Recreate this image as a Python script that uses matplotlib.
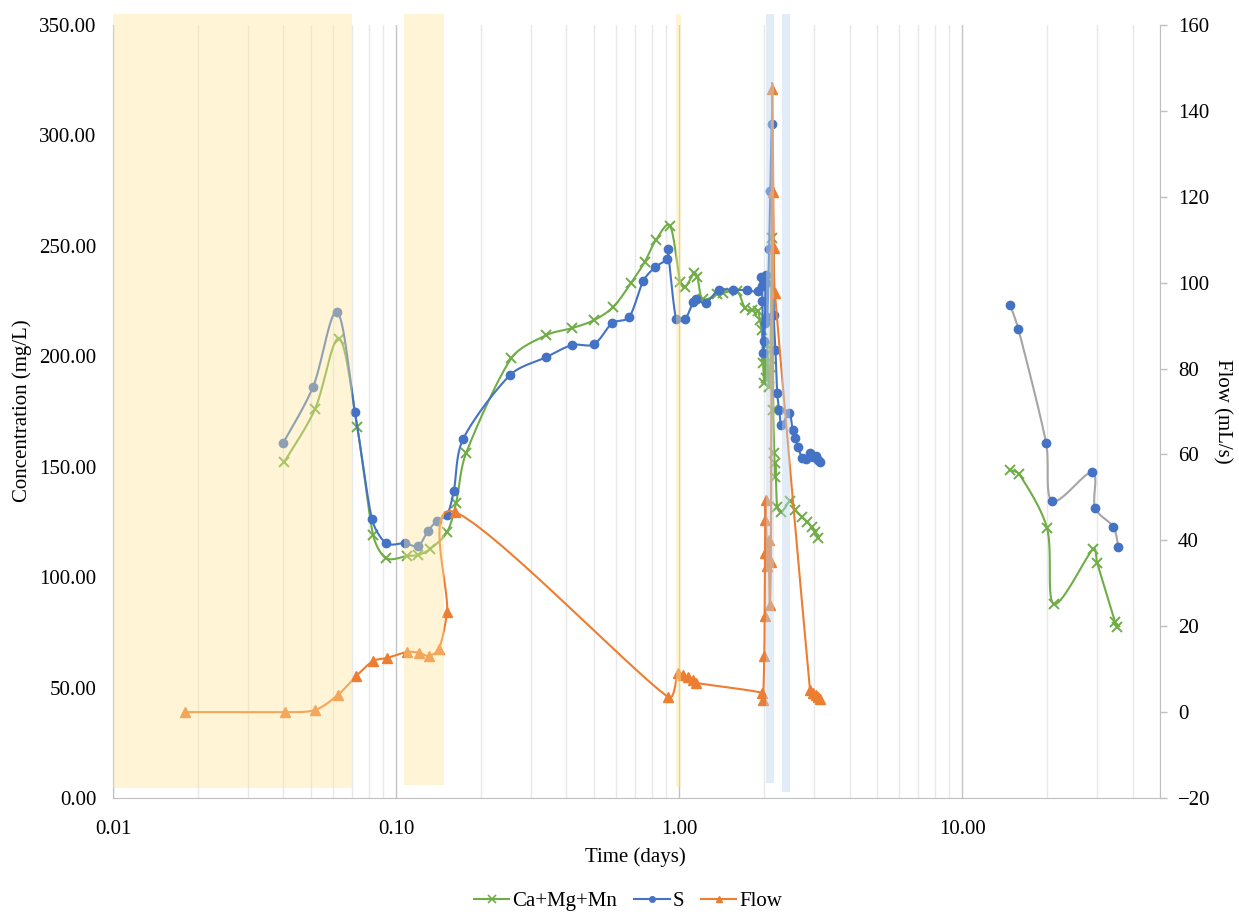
import numpy as np
import matplotlib
matplotlib.use("Agg")
import matplotlib.pyplot as plt
import matplotlib.transforms as mtrans
from matplotlib.ticker import FixedLocator, LogLocator, NullFormatter, FormatStrFormatter
from matplotlib.lines import Line2D

plt.rcParams['font.family'] = ['Liberation Serif', 'DejaVu Serif']

# Ca+Mg+Mn (mg/L)
cmm_days = [0.0402, 0.0517, 0.0629, 0.0729, 0.0830, 0.0922, 0.1094, 0.1196, 0.1318, 0.1514,
            0.1629, 0.1766, 0.255, 0.34, 0.42, 0.501, 0.585, 0.675, 0.755, 0.828, 0.93,
            1.008, 1.05, 1.13, 1.16, 1.21, 1.36, 1.43, 1.60, 1.71, 1.81, 1.90, 1.93, 1.96,
            1.98, 2.00, 2.01, 2.03, 2.05, 2.07, 2.10, 2.13, 2.15, 2.17, 2.18, 2.19, 2.22,
            2.30, 2.47, 2.57, 2.72, 2.84, 2.95, 3.03, 3.10,
            14.78, 15.9, 19.95, 21.1, 29.0, 30.0, 34.7, 35.3]
cmm_conc = [152, 176, 208, 168, 119, 108.6, 109.6, 110, 112.7, 120.4,
            133.5, 156, 199, 209.6, 212.8, 216.4, 222.3, 233, 242.6, 252.6, 259,
            233.6, 231.3, 237.7, 236, 226, 228, 228.6, 229.5, 221.7, 220.8, 220.4, 216.3, 211.8,
            196.9, 187.9, 200, 190, 205, 186, 195, 253.5, 175.6, 156.2, 145.3, 151.7, 131.7,
            129.5, 134.4, 130.4, 127.2, 124.9, 122.7, 120.4, 117.7,
            148.5, 146.7, 122.2, 87.8, 112.7, 106.4, 79.7, 77.4]

# S (mg/L)
s_days = [0.0399, 0.0509, 0.0619, 0.0716, 0.0822, 0.0922, 0.1076, 0.1196, 0.1297, 0.1394,
          0.1514, 0.1600, 0.1725, 0.2528, 0.339, 0.419, 0.501, 0.580, 0.666, 0.746, 0.823,
          0.907, 0.912, 0.976, 1.05, 1.12, 1.15, 1.24, 1.38, 1.55, 1.74, 1.90, 1.95, 1.96,
          1.97, 1.98, 2.00, 2.01, 2.02, 2.03, 2.05, 2.08, 2.10, 2.13, 2.16, 2.19, 2.22,
          2.26, 2.30, 2.45, 2.52, 2.57, 2.63, 2.72, 2.80, 2.90, 2.97, 3.05, 3.10, 3.15,
          14.78, 15.8, 19.8, 20.8, 28.8, 29.5, 34.2, 35.6]
s_conc = [160.7, 186.1, 220.0, 174.7, 126.3, 115.4, 115.4, 114.1, 120.9, 125.4,
          128.1, 139.0, 162.5, 191.5, 199.6, 205.1, 205.5, 215.0, 217.7, 234.0, 240.4,
          244.0, 248.5, 216.8, 216.8, 224.5, 226, 224, 230, 230, 230, 229.5, 236, 232,
          225, 201.5, 207, 215, 237, 233, 218, 248.5, 275, 305, 218.6, 202.8, 183.3,
          175.6, 168.9, 174.3, 166.6, 163, 158.9, 153.9, 153.5, 156.2, 154.4, 155.0, 153.0, 152.1,
          223.2, 212.3, 160.7, 134.4, 147.6, 131.3, 122.7, 113.6]

# Flow (mL/s)
flow_days = [0.018, 0.0405, 0.0517, 0.0623, 0.0723, 0.083, 0.0928, 0.1094, 0.1207, 0.1304,
             0.1417, 0.1514, 0.1614, 0.914, 0.991, 1.033, 1.076, 1.121, 1.15,
             1.965, 1.98, 2.00, 2.005, 2.01, 2.015, 2.02, 2.05, 2.07, 2.09, 2.11,
             2.13, 2.15, 2.16, 2.18, 2.90, 2.97, 3.05, 3.10, 3.15]
flow_rate = [0, 0, 0.5, 4.0, 8.4, 11.9, 12.6, 14.0, 13.8, 13.1,
             14.7, 23.3, 46.6, 3.5, 9.1, 8.6, 8.2, 7.5, 6.8,
             4.5, 2.8, 13.1, 22.4, 37.1, 44.7, 49.4, 34, 40, 25, 35,
             145, 121, 108, 97.6, 5.2, 4.5, 4.0, 3.5, 3.1]

# highlighted periods (days)
yellow_spans = [(0.01, 0.070), (0.1067, 0.148), (0.976, 1.016)]
blue_spans = [(2.03, 2.17), (2.31, 2.47)]

GREEN = '#70AD47'
BLUE = '#4472C4'
ORANGE = '#ED7D31'
GRAY = '#A5A5A5'


def smooth(ax, x, y, n=16):
    # Excel-like smoothed line, built in display space
    pts = ax.transData.transform(np.column_stack([x, y]))
    if len(pts) < 2:
        return np.asarray(x), np.asarray(y)
    out = [pts[0]]
    t = np.linspace(0, 1, n)[1:, None]
    for i in range(len(pts) - 1):
        p0 = pts[i - 1] if i > 0 else pts[i]
        p1, p2 = pts[i], pts[i + 1]
        p3 = pts[i + 2] if i + 2 < len(pts) else pts[i + 1]
        seglen = np.hypot(*(p2 - p1))
        d1 = (p2 - p0) / 6
        d2 = (p3 - p1) / 6
        # keep the handles short on uneven spacing, avoids overshoot
        for d in (d1, d2):
            ln = np.hypot(*d)
            if ln > seglen / 3 and ln > 0:
                d *= (seglen / 3) / ln
        c1 = p1 + d1
        c2 = p2 - d2
        seg = (1 - t) ** 3 * p1 + 3 * (1 - t) ** 2 * t * c1 + 3 * (1 - t) * t ** 2 * c2 + t ** 3 * p2
        out.extend(seg)
    xy = ax.transData.inverted().transform(np.array(out))
    return xy[:, 0], xy[:, 1]


fig = plt.figure(figsize=(12.39, 9.15), dpi=100)
ax = fig.add_axes([113 / 1239, 1 - 798 / 915, 1047 / 1239, 773 / 915])
ax.set_xscale('log')
ax.set_xlim(0.01, 50)
ax.set_ylim(0, 350)
ax2 = ax.twinx()
ax2.set_ylim(-20, 160)

cd, cc = np.array(cmm_days), np.array(cmm_conc)
sd, sc = np.array(s_days), np.array(s_conc)
fd, fr = np.array(flow_days), np.array(flow_rate)

# two sampling campaigns, no line across the gap
for lo, hi, scol in [(0, 10, BLUE), (10, 100, GRAY)]:
    m = (cd > lo) & (cd < hi)
    xs, ys = smooth(ax, cd[m], cc[m])
    ax.plot(xs, ys, color=GREEN, lw=1.5, zorder=3)
    ax.plot(cd[m], cc[m], ls='none', marker='x', ms=7, mew=1.4, color=GREEN, zorder=3)
    m = (sd > lo) & (sd < hi)
    xs, ys = smooth(ax, sd[m], sc[m])
    ax.plot(xs, ys, color=scol, lw=1.5, zorder=4)
    ax.plot(sd[m], sc[m], ls='none', marker='o', ms=6, color=BLUE, zorder=4)

xs, ys = smooth(ax2, fd, fr)
ax2.plot(xs, ys, color=ORANGE, lw=1.5, zorder=3)
ax2.plot(fd, fr, ls='none', marker='^', ms=7, color=ORANGE, zorder=3)

# shaded periods drawn over the data
trans = mtrans.blended_transform_factory(ax2.transData, ax2.transAxes)
for (a, b), bot in zip(yellow_spans, [0.0129, 0.0168, 0.0142]):
    ax2.add_patch(plt.Rectangle((a, bot), b - a, 1.0142 - bot, transform=trans,
                                facecolor='#FFE699', alpha=0.4, lw=0, zorder=10, clip_on=False))
for (a, b), bot in zip(blue_spans, [0.0194, 0.0078]):
    ax2.add_patch(plt.Rectangle((a, bot), b - a, 1.0142 - bot, transform=trans,
                                facecolor='#BDD7EE', alpha=0.45, lw=0, zorder=10, clip_on=False))

# axes styling
ax.xaxis.set_major_locator(FixedLocator([0.01, 0.1, 1, 10]))
ax.xaxis.set_major_formatter(FormatStrFormatter('%.2f'))
ax.xaxis.set_minor_locator(LogLocator(base=10, subs=np.arange(2, 10)))
ax.xaxis.set_minor_formatter(NullFormatter())
ax.xaxis.grid(True, which='major', color='#C4C4C4', lw=1.0, zorder=0)
ax.xaxis.grid(True, which='minor', color='#E8E8E8', lw=1.0, zorder=0)
ax.set_axisbelow(True)
ax.set_yticks(np.arange(0, 351, 50))
ax.yaxis.set_major_formatter(FormatStrFormatter('%.2f'))
ax2.set_yticks(np.arange(-20, 161, 20))

ax.tick_params(axis='x', which='both', length=0, pad=16, labelsize=15, colors='#000000')
ax.tick_params(axis='y', length=0, pad=12, labelsize=15)
ax2.tick_params(axis='y', length=5, width=1, color='#BFBFBF', direction='out', pad=8, labelsize=15)

for sp in ['top', 'right']:
    ax.spines[sp].set_visible(False)
for sp in ['top', 'left', 'bottom']:
    ax2.spines[sp].set_visible(False)
ax.spines['left'].set_color('#BFBFBF')
ax.spines['bottom'].set_color('#BFBFBF')
ax2.spines['right'].set_color('#BFBFBF')

fig.text(635 / 1239, 1 - 857 / 915, 'Time (days)', ha='center', va='center', fontsize=15)
fig.text(22 / 1239, 1 - 411 / 915, 'Concentration (mg/L)', ha='center', va='center',
         rotation=90, fontsize=15)
fig.text(1222 / 1239, 1 - 411 / 915, 'Flow (mL/s)', ha='center', va='center',
         rotation=270, fontsize=15)

handles = [Line2D([], [], color=GREEN, marker='x', ms=6, mew=1.2, lw=1.5),
           Line2D([], [], color=BLUE, marker='o', ms=4, lw=1.5),
           Line2D([], [], color=ORANGE, marker='^', ms=5, lw=1.5)]
fig.legend(handles, ['Ca+Mg+Mn', 'S', 'Flow'], loc='center', bbox_to_anchor=(0.507, 0.015),
           ncol=3, frameon=False, fontsize=15, handlelength=1.7, handletextpad=0.15,
           columnspacing=0.8)

fig.savefig('out.png', dpi=100)
